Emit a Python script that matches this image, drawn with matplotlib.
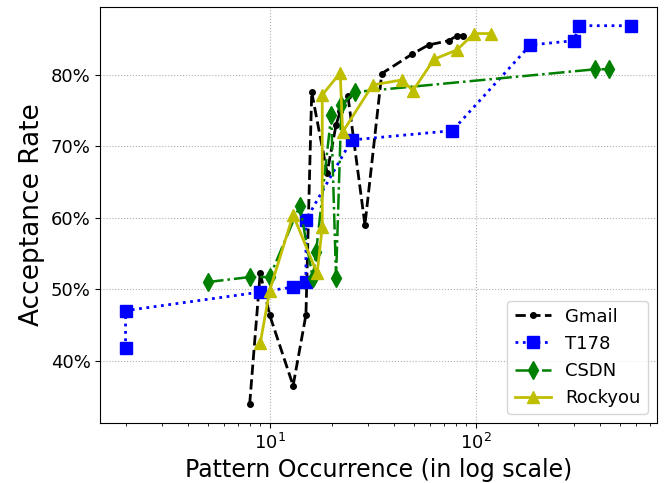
import numpy as np
from matplotlib import pyplot as plt
from matplotlib.ticker import PercentFormatter

# pattern occurrence (x) and acceptance rate in % (y)
gmail_x = [8, 9, 10, 13, 15, 16, 19, 21, 22, 24, 29, 35, 49, 59, 74, 81, 87]
gmail_y = [33.9, 52.3, 46.4, 36.5, 46.4, 77.6, 66.3, 73.0, 74.9, 77.0, 59.0, 80.2, 82.9, 84.2, 84.8, 85.5, 85.5]

t178_x = [2, 2, 9, 13, 15, 15, 25, 77, 184, 300, 316, 569]
t178_y = [41.7, 47.0, 49.6, 50.3, 51.0, 59.7, 70.9, 72.2, 84.2, 84.8, 86.9, 86.9]

csdn_x = [5, 8, 10, 14, 16.2, 16.8, 19.9, 21, 22.3, 25.9, 381, 442]
csdn_y = [51.0, 51.7, 51.7, 61.7, 51.5, 55.2, 74.4, 51.6, 75.8, 77.6, 80.8, 80.8]

rockyou_x = [9, 10, 13, 17, 18, 18, 22, 22.6, 31.6, 43.7, 49.6, 62.7, 81, 98, 119]
rockyou_y = [42.4, 49.8, 60.4, 52.2, 58.7, 77.2, 80.3, 72.0, 78.6, 79.3, 77.8, 82.2, 83.5, 85.8, 85.8]

fig = plt.figure(figsize=(6.64, 4.83), dpi=100)
ax = fig.add_axes([0.151, 0.124, 0.838, 0.862])

ax.plot(gmail_x, gmail_y, 'k--', marker='o', ms=4, lw=2, label='Gmail')
ax.plot(t178_x, t178_y, 'b:', marker='s', ms=8, lw=2, label='T178')
ax.plot(csdn_x, csdn_y, 'g-.', marker='d', ms=9, lw=1.8, label='CSDN')
ax.plot(rockyou_x, rockyou_y, 'y-', marker='^', ms=9, lw=2, label='Rockyou')

ax.set_xscale('log')
ax.yaxis.set_major_formatter(PercentFormatter(100, decimals=0))
ax.grid(True, which='major', linestyle=':', color='#b0b0b0')
ax.tick_params(labelsize=13)

ax.set_xlabel('Pattern Occurrence (in log scale)', fontsize=17)
ax.set_ylabel('Acceptance Rate', fontsize=19)
ax.legend(loc='lower right', fontsize=13)

plt.savefig('out.png', dpi=100)
